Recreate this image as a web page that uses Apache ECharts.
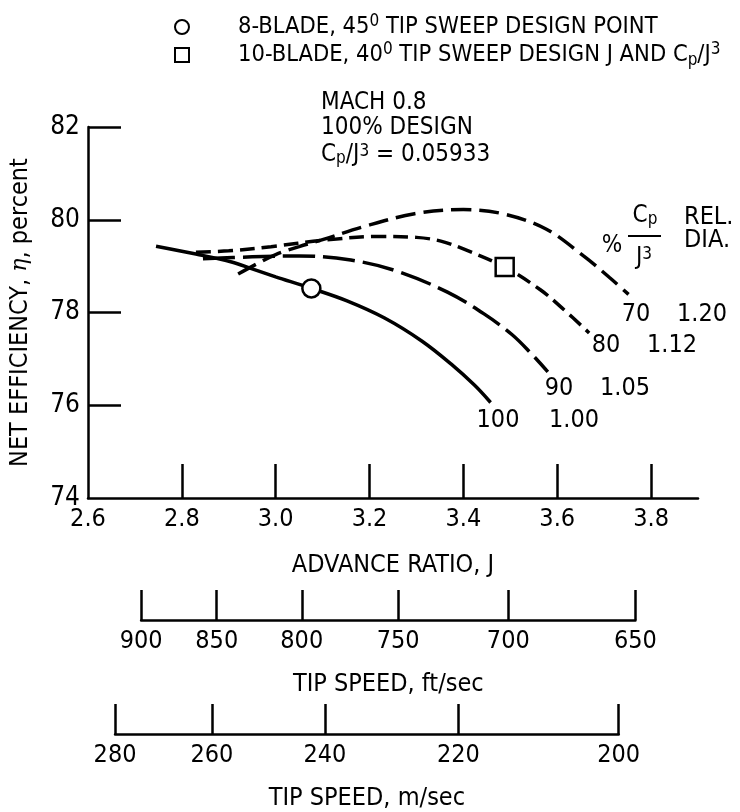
<!DOCTYPE html>
<html><head><meta charset="utf-8">
<script src="https://cdn.jsdelivr.net/npm/echarts@6/dist/echarts.min.js"></script>
<style>html,body{margin:0;padding:0;background:#fff}#c{width:740px;height:812px}</style>
</head><body><div id="c"></div>
<script>
// ---- data ----
const J100 = [2.745, 2.83, 2.906, 2.95, 3.0, 3.076, 3.152, 3.232, 3.312, 3.376, 3.424, 3.458];
const E100 = [79.43, 79.26, 79.09, 78.94, 78.77, 78.52, 78.25, 77.88, 77.38, 76.87, 76.43, 76.06];
const J90 = [2.845, 2.95, 3.05, 3.16, 3.256, 3.366, 3.444, 3.504, 3.544, 3.58];
const E90 = [79.16, 79.2, 79.22, 79.13, 78.9, 78.44, 77.97, 77.52, 77.12, 76.72];
const J80 = [2.83, 2.9, 2.99, 3.104, 3.216, 3.3, 3.352, 3.40, 3.488, 3.564, 3.61, 3.668];
const E80 = [79.3, 79.33, 79.42, 79.56, 79.64, 79.62, 79.54, 79.37, 78.98, 78.49, 78.1, 77.56];
const J70 = [2.92, 2.96, 3.0, 3.05, 3.1, 3.184, 3.296, 3.40, 3.488, 3.576, 3.656, 3.712, 3.752];
const E70 = [78.83, 79.05, 79.25, 79.42, 79.57, 79.84, 80.13, 80.22, 80.12, 79.8, 79.22, 78.75, 78.39];
const design8J = [3.076], design8E = [78.52];
const design10J = [3.488], design10E = [78.98];
const xLabelTicks = [2.6, 2.8, 3.0, 3.2, 3.4, 3.6, 3.8];
const xMarkTicks = [2.8, 3.0, 3.2, 3.4, 3.6, 3.8];
const yMarkTicks = [76, 78, 80, 82];
const tipSpeedFt = [900, 850, 800, 750, 700, 650];
const tipSpeedM = [280, 260, 240, 220, 200];
const flightSpeedFt = 779.5;            // ft/sec, J = pi*V/U
const FT_TO_M = 0.3048;
const curveLabels = [
  {pct: '70', dia: '1.20'}, {pct: '80', dia: '1.12'},
  {pct: '90', dia: '1.05'}, {pct: '100', dia: '1.00'}
];

// ---- layout ----
const FONT = '"Liberation Sans Narrow", "Nimbus Sans Narrow", "DejaVu Sans Condensed", sans-serif';
const FS = 25;
const JMIN = 2.6, JMAX = 3.9;
const G = {left: 84, top: 127, width: 614, height: 371};
const pxPerJ = G.width / (JMAX - JMIN);
const Kft = Math.PI * flightSpeedFt;
const Km = Kft * FT_TO_M;
const pair = (xs, ys) => xs.map((x, i) => [x, ys[i]]);
const sub = {fontFamily: FONT, fontSize: 17, verticalAlign: 'bottom', lineHeight: 14, color: '#000'};
const sup = {fontFamily: FONT, fontSize: 17, verticalAlign: 'top', lineHeight: 14, color: '#000'};

function gridFor(kk, uFirst, uLast, top) {
  const j0 = kk / uFirst, j1 = kk / uLast;
  return {left: G.left + (j0 - JMIN) * pxPerJ, width: (j1 - j0) * pxPerJ, top: top, height: 60};
}
function speedAxis(idx, kk, speeds, name) {
  const vals = speeds.map(u => kk / u);
  return {
    gridIndex: idx, type: 'value', min: kk / speeds[0], max: kk / speeds[speeds.length - 1],
    axisLine: {lineStyle: {color: '#000', width: 2.5}},
    axisTick: {inside: true, length: 30, customValues: vals, lineStyle: {color: '#000', width: 2.5}},
    axisLabel: {customValues: vals, formatter: v => String(Math.round(kk / v)), margin: 9,
      fontFamily: FONT, fontSize: FS, color: '#000'},
    splitLine: {show: false},
    name: name, nameLocation: 'middle', nameGap: 52,
    nameTextStyle: {fontFamily: FONT, fontSize: FS, color: '#000'}
  };
}
const line = (name, xs, ys, type) => ({
  name: name, type: 'line', data: pair(xs, ys), showSymbol: false, smooth: 0.35,
  lineStyle: {color: '#000', width: 3.5, type: type}, silent: true, z: 2
});

const N8 = '8-BLADE, 45° TIP SWEEP DESIGN POINT';
const N10 = '10-BLADE, 40° TIP SWEEP DESIGN J AND Cp/J3';
const legendText = {};
legendText[N8] = '8-BLADE, 45{sup|0} TIP SWEEP DESIGN POINT';
legendText[N10] = '10-BLADE, 40{sup|0} TIP SWEEP DESIGN J AND C{sub|p}/J{sup|3}';

const gText = (x, y, text, align, extra) => Object.assign({
  type: 'text', x: x, y: y, silent: true,
  style: Object.assign({text: text, fill: '#000', fontFamily: FONT, fontSize: FS,
    textAlign: align || 'left', textVerticalAlign: 'middle', rich: {sub: sub, sup: sup}}, extra || {})
});

const labelPos = [[636, 314, 702], [606, 345, 672], [559, 388, 625], [498, 420, 574]];
const graphics = [
  gText(321, 103, 'MACH 0.8', 'left', {fontSize: 24}),
  gText(321, 128, '100% DESIGN', 'left', {fontSize: 24}),
  gText(321, 155, 'C{sub|p}/J{sup|3} = 0.05933', 'left', {fontSize: 24}),
  gText(684, 217, 'REL.'),
  gText(684, 240, 'DIA.'),
  gText(612, 246, '%', 'center', {fontSize: 24}),
  gText(645, 216, 'C{sub|p}', 'center', {fontSize: 24}),
  gText(644, 258, 'J{sup|3}', 'center', {fontSize: 24}),
  {type: 'line', silent: true, shape: {x1: 628, y1: 236, x2: 661, y2: 236}, style: {stroke: '#000', lineWidth: 2.2}}
];
curveLabels.forEach((c, i) => {
  graphics.push(gText(labelPos[i][0], labelPos[i][1], c.pct, 'center'));
  graphics.push(gText(labelPos[i][2], labelPos[i][1], c.dia, 'center'));
});

const chart = echarts.init(document.getElementById('c'), null, {renderer: 'canvas'});
chart.setOption({
  backgroundColor: '#fff',
  animation: false,
  textStyle: {fontFamily: FONT},
  legend: {
    orient: 'vertical', left: 169, top: 8, itemWidth: 14, itemHeight: 14, itemGap: 0,
    selectedMode: false,
    data: [{name: N8, icon: 'circle'}, {name: N10, icon: 'rect'}],
    formatter: n => legendText[n],
    textStyle: {fontFamily: FONT, fontSize: 23.5, color: '#000', lineHeight: 28,
      padding: [0, 0, 0, 44], rich: {sub: sub, sup: sup}}
  },
  grid: [
    G,
    gridFor(Kft, tipSpeedFt[0], tipSpeedFt[tipSpeedFt.length - 1], 560),
    gridFor(Km, tipSpeedM[0], tipSpeedM[tipSpeedM.length - 1], 683)
  ],
  xAxis: [
    {
      gridIndex: 0, type: 'value', min: JMIN, max: JMAX,
      axisLine: {lineStyle: {color: '#000', width: 2.5}},
      axisTick: {inside: true, length: 34, customValues: xMarkTicks, lineStyle: {color: '#000', width: 2.5}},
      axisLabel: {customValues: xLabelTicks, formatter: v => v.toFixed(1), margin: 9,
        fontFamily: FONT, fontSize: FS, color: '#000'},
      splitLine: {show: false},
      name: 'ADVANCE RATIO, J', nameLocation: 'middle', nameGap: 55,
      nameTextStyle: {fontFamily: FONT, fontSize: FS, color: '#000'}
    },
    speedAxis(1, Kft, tipSpeedFt, 'TIP SPEED, ft/sec'),
    speedAxis(2, Km, tipSpeedM, 'TIP SPEED, m/sec')
  ],
  yAxis: [
    {
      gridIndex: 0, type: 'value', min: 74, max: 82, interval: 2,
      axisLine: {lineStyle: {color: '#000', width: 2.5}},
      axisTick: {inside: true, length: 33, customValues: yMarkTicks, lineStyle: {color: '#000', width: 2.5}},
      axisLabel: {margin: 8, fontFamily: FONT, fontSize: 26, color: '#000'},
      splitLine: {show: false},
      name: 'NET EFFICIENCY, {i|η}, percent', nameLocation: 'middle', nameGap: 55,
      nameTextStyle: {fontFamily: FONT, fontSize: FS, color: '#000',
        rich: {i: {fontFamily: 'DejaVu Serif', fontStyle: 'italic', fontSize: 22, color: '#000'}}}
    },
    {gridIndex: 1, show: false, min: 0, max: 1},
    {gridIndex: 2, show: false, min: 0, max: 1}
  ],
  series: [
    line('100', J100, E100, 'solid'),
    line('90', J90, E90, [32, 8]),
    line('80', J80, E80, [15, 7]),
    line('70', J70, E70, [20, 8]),
    {name: N8, type: 'scatter', data: pair(design8J, design8E), symbol: 'circle', symbolSize: 18,
      itemStyle: {color: '#fff', borderColor: '#000', borderWidth: 2.5, opacity: 1}, z: 5, silent: true},
    {name: N10, type: 'scatter', data: pair(design10J, design10E), symbol: 'rect', symbolSize: 18,
      itemStyle: {color: '#fff', borderColor: '#000', borderWidth: 2.5, opacity: 1}, z: 5, silent: true}
  ],
  graphic: graphics
});
</script></body></html>
